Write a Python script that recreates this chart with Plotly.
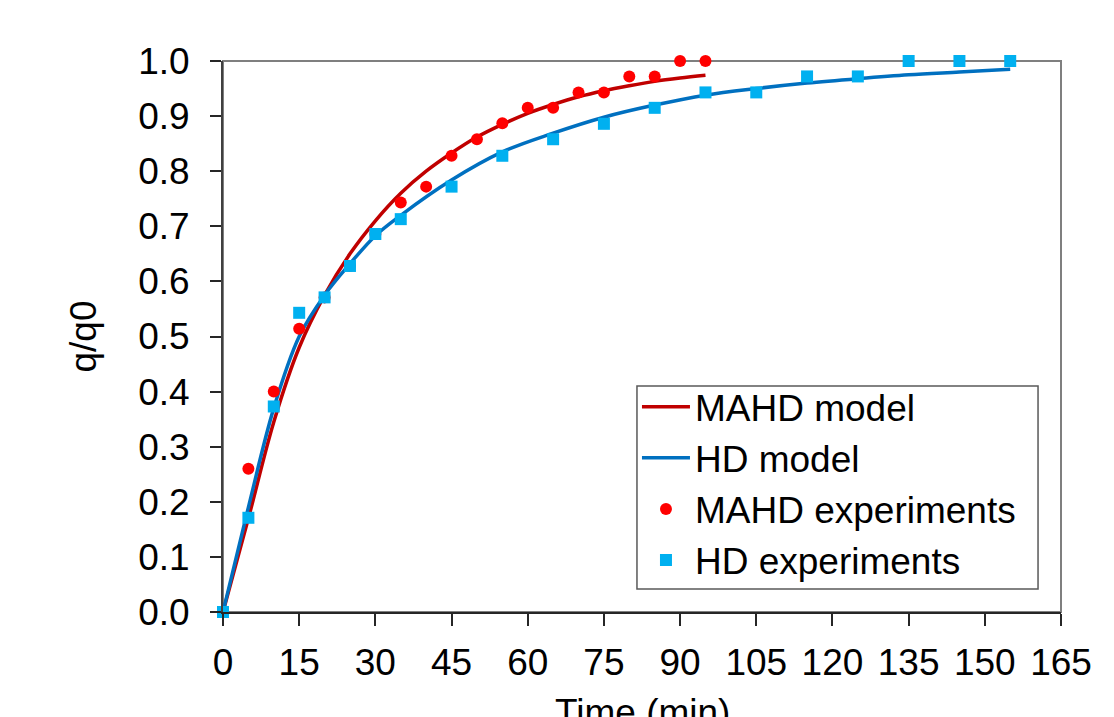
import plotly.graph_objects as go

# Experimental data
mahd_exp_t = [0, 5, 10, 15, 20, 25, 30, 35, 40, 45, 50, 55, 60, 65, 70, 75, 80, 85, 90, 95]
mahd_exp_q = [0.0, 0.26, 0.40, 0.514, 0.571, 0.628, 0.686, 0.743, 0.772, 0.828, 0.858, 0.887,
              0.915, 0.915, 0.943, 0.943, 0.972, 0.972, 1.0, 1.0]

hd_exp_t = [0, 5, 10, 15, 20, 25, 30, 35, 45, 55, 65, 75, 85, 95, 105, 115, 125, 135, 145, 155]
hd_exp_q = [0.0, 0.171, 0.373, 0.543, 0.571, 0.628, 0.686, 0.713, 0.772, 0.828, 0.858, 0.886,
            0.915, 0.943, 0.943, 0.972, 0.972, 1.0, 1.0, 1.0]

# Model curves
mahd_mod_t = [0, 5, 10, 15, 20, 25, 30, 35, 40, 45, 50, 55, 60, 65, 70, 75, 80, 85, 90, 95]
mahd_mod_q = [0.0, 0.17, 0.345, 0.48, 0.575, 0.65, 0.71, 0.76, 0.80, 0.833, 0.862, 0.885,
              0.905, 0.921, 0.935, 0.946, 0.955, 0.963, 0.969, 0.974]

hd_mod_t = [0, 5, 10, 15, 20, 25, 30, 35, 45, 55, 65, 75, 85, 95, 105, 115, 125, 135, 145, 155]
hd_mod_q = [0.0, 0.19, 0.37, 0.50, 0.575, 0.632, 0.683, 0.720, 0.784, 0.835, 0.869, 0.898,
            0.920, 0.938, 0.950, 0.960, 0.968, 0.975, 0.980, 0.985]

x_ticks = list(range(0, 166, 15))
y_ticks = [round(i * 0.1, 1) for i in range(11)]

FONT = "Liberation Sans"

fig = go.Figure()
fig.add_trace(go.Scatter(x=mahd_mod_t, y=mahd_mod_q, mode="lines", name="MAHD model",
                         line=dict(color="#C00000", width=3.5, shape="spline")))
fig.add_trace(go.Scatter(x=hd_mod_t, y=hd_mod_q, mode="lines", name="HD model",
                         line=dict(color="#0070C0", width=3.5, shape="spline")))
fig.add_trace(go.Scatter(x=mahd_exp_t, y=mahd_exp_q, mode="markers", name="MAHD experiments",
                         marker=dict(color="#FF0000", size=12, symbol="circle"), cliponaxis=False))
fig.add_trace(go.Scatter(x=hd_exp_t, y=hd_exp_q, mode="markers", name="HD experiments",
                         marker=dict(color="#00B0F0", size=12, symbol="square"), cliponaxis=False))

# grey frame (top/right)
fig.add_shape(type="rect", xref="x domain", yref="y domain", x0=0, x1=1, y0=0, y1=1,
              line=dict(color="#7f7f7f", width=2), fillcolor="rgba(0,0,0,0)", layer="below")
# legend box
fig.add_shape(type="rect", xref="paper", yref="paper", x0=0.494, x1=0.9726, y0=0.0417, y1=0.410,
              line=dict(color="#595959", width=1.5), fillcolor="white", layer="below")

# x axis title as annotation (partly cut off at the bottom, as in the reference)
fig.add_annotation(text="Time (min)", xref="paper", yref="paper", x=0.5, y=-0.1416,
                   xanchor="center", yanchor="top", showarrow=False,
                   font=dict(family=FONT, size=37, color="black"))

fig.update_layout(
    width=1114, height=717,
    margin=dict(l=223, r=53, t=61, b=105),
    paper_bgcolor="white", plot_bgcolor="white",
    font=dict(family=FONT, size=37, color="black"),
    showlegend=True,
    legend=dict(x=0.494, y=0.428, xanchor="left", yanchor="top",
                bgcolor="rgba(0,0,0,0)", borderwidth=0, itemwidth=48,
                font=dict(family=FONT, size=37, color="black")),
    xaxis=dict(range=[0, 165], tickvals=x_ticks, ticktext=[str(v) for v in x_ticks],
               showgrid=False, zeroline=False, showline=True, linecolor="#262626", linewidth=2,
               ticks="outside", ticklen=12, tickwidth=1.5, tickcolor="#262626",
               ticklabelstandoff=5, automargin=False),
    yaxis=dict(range=[0, 1], tickvals=y_ticks, ticktext=[f"{v:.1f}" for v in y_ticks],
               showgrid=False, zeroline=False, showline=True, linecolor="#404040", linewidth=2,
               ticks="outside", ticklen=11, tickwidth=1.5, tickcolor="#262626",
               ticklabelstandoff=13, automargin=False,
               title=dict(text="q/q0", standoff=30, font=dict(size=37))),
)

fig.write_html("out.html")
